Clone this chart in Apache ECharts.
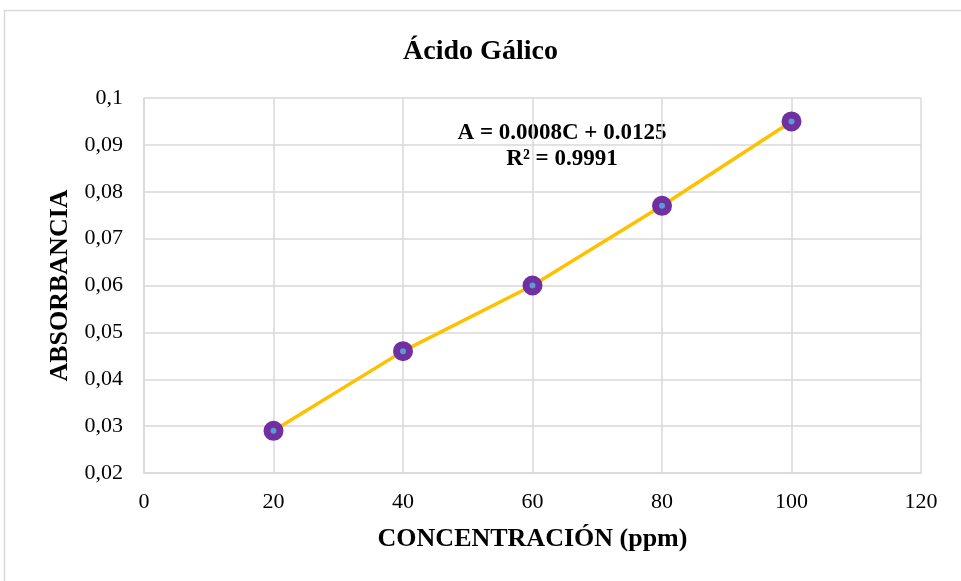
<!DOCTYPE html>
<html>
<head>
<meta charset="utf-8">
<script src="https://cdn.jsdelivr.net/npm/echarts@6/dist/echarts.min.js"></script>
<style>
  html, body { margin: 0; padding: 0; background: #fff; }
  #chart { width: 961px; height: 581px; }
</style>
</head>
<body>
<div id="chart"></div>
<script>
// datos de la curva de calibración
const concentracion = [20, 40, 60, 80, 100];
const absorbancia = [0.029, 0.046, 0.060, 0.077, 0.095];
const ecuacion = ['A = 0.0008C + 0.0125', 'R² = 0.9991'];

const serif = '"Liberation Serif", "Times New Roman", serif';
const chart = echarts.init(document.getElementById('chart'));

chart.setOption({
    backgroundColor: '#fff',
    animation: false,
    title: {
        text: 'Ácido Gálico',
        left: 'center',
        top: 33,
        textStyle: { fontFamily: serif, fontSize: 28, fontWeight: 'bold', color: '#000' }
    },
    grid: { left: 144, right: 40, top: 98, bottom: 108 },
    xAxis: {
        type: 'value',
        min: 0, max: 120, interval: 20,
        name: 'CONCENTRACIÓN (ppm)',
        nameLocation: 'middle',
        nameGap: 53,
        nameTextStyle: { fontFamily: serif, fontSize: 26, fontWeight: 'bold', color: '#000' },
        axisLine: { show: true, lineStyle: { color: '#d9d9d9', width: 1.5 } },
        axisTick: { show: false },
        axisLabel: { fontFamily: serif, fontSize: 22, color: '#000', margin: 18 },
        splitLine: { show: true, lineStyle: { color: '#d9d9d9', width: 1.5 } }
    },
    yAxis: {
        type: 'value',
        min: 0.02, max: 0.1, interval: 0.01,
        name: 'ABSORBANCIA',
        nameLocation: 'middle',
        nameGap: 70,
        nameTextStyle: { fontFamily: serif, fontSize: 26, fontWeight: 'bold', color: '#000' },
        axisLine: { show: true, lineStyle: { color: '#d9d9d9', width: 1.5 } },
        axisTick: { show: false },
        axisLabel: {
            fontFamily: serif, fontSize: 22, color: '#000', margin: 21,
            formatter: v => String(+v.toFixed(2)).replace('.', ',')
        },
        splitLine: { show: true, lineStyle: { color: '#d9d9d9', width: 1.5 } }
    },
    graphic: [
        {
            type: 'rect',
            shape: { x: 4.5, y: 10.5, width: 970, height: 580 },
            style: { fill: 'none', stroke: '#d9d9d9', lineWidth: 1.5 },
            silent: true
        },
        {
            type: 'text',
            x: 562, y: 120,
            style: {
                text: ecuacion.join('\n'),
                textAlign: 'center',
                textVerticalAlign: 'top',
                fontFamily: serif, fontSize: 23, fontWeight: 'bold',
                fill: '#000', lineHeight: 26
            }
        }
    ],
    series: [{
        type: 'line',
        data: concentracion.map((c, i) => [c, absorbancia[i]]),
        lineStyle: { color: '#FFC000', width: 3.5 },
        symbol: 'circle',
        symbolSize: 13,
        itemStyle: { color: '#5B9BD5', borderColor: '#7030A0', borderWidth: 7 },
        z: 3
    }]
});
</script>
</body>
</html>
